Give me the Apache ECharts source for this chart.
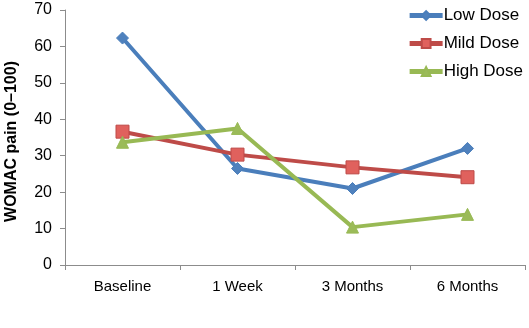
<!DOCTYPE html>
<html><head><meta charset="utf-8">
<script src="https://cdn.jsdelivr.net/npm/echarts@6/dist/echarts.min.js"></script>
<style>html,body{margin:0;padding:0;background:#fff}#c{width:529px;height:328px}</style>
</head><body><div id="c"></div>
<script>
const categories = ['Baseline', '1 Week', '3 Months', '6 Months'];
const lowDose = [62.3, 26.5, 21, 32];
const mildDose = [36.6, 30.3, 26.8, 24.1];
const highDose = [33.7, 37.5, 10.4, 13.9];
const yTicks = [0, 10, 20, 30, 40, 50, 60, 70];

const chart = echarts.init(document.getElementById('c'));
const font = 'Liberation Sans, Arial, sans-serif';
function ser(name, data, color, symbol, size, fill) {
  return {
    name, type: 'line', data, symbol, symbolSize: size,
    lineStyle: { color, width: 4 },
    itemStyle: { color: fill, borderColor: color, borderWidth: 1 },
    z: 2
  };
}
chart.setOption({
  animation: false,
  grid: { left: 65, right: 4, top: 10, bottom: 63, outerBoundsMode: 'none', containLabel: false },
  legend: {
    orient: 'vertical', right: 6, top: 7, itemGap: 11, padding: 0,
    itemWidth: 33, itemHeight: 11,
    lineStyle: { width: 5 },
    textStyle: { fontFamily: font, fontSize: 17, lineHeight: 17, color: '#000', padding: [0, 0, 0, -4] },
    data: ['Low Dose', 'Mild Dose', 'High Dose']
  },
  xAxis: {
    type: 'category', data: categories, boundaryGap: true,
    axisLine: { lineStyle: { color: '#8c8c8c', width: 1 } },
    axisTick: { show: true, alignWithLabel: false, lineStyle: { color: '#8c8c8c' }, length: 5 },
    axisLabel: { fontFamily: font, fontSize: 15, color: '#000', margin: 14 },
    splitLine: { show: false }
  },
  yAxis: {
    type: 'value', min: yTicks[0], max: yTicks[yTicks.length - 1], interval: 10,
    name: 'WOMAC pain (0\u2013100)', nameLocation: 'middle', nameGap: 45, nameRotate: 90,
    nameTextStyle: { fontFamily: font, fontSize: 16, fontWeight: 'bold', color: '#000', padding: [0, 8, 0, 0] },
    axisLine: { show: true, lineStyle: { color: '#8c8c8c', width: 1 } },
    axisTick: { show: true, lineStyle: { color: '#8c8c8c' }, length: 5 },
    axisLabel: { fontFamily: font, fontSize: 16, color: '#000', margin: 13 },
    splitLine: { show: false }
  },
  series: [
    ser('Low Dose', lowDose, '#4a7ebb', 'diamond', 12, '#4f81bd'),
    ser('Mild Dose', mildDose, '#be4b48', 'rect', 13, '#e0615d'),
    ser('High Dose', highDose, '#98b954', 'triangle', 12, '#9bbb59')
  ]
});
</script></body></html>
